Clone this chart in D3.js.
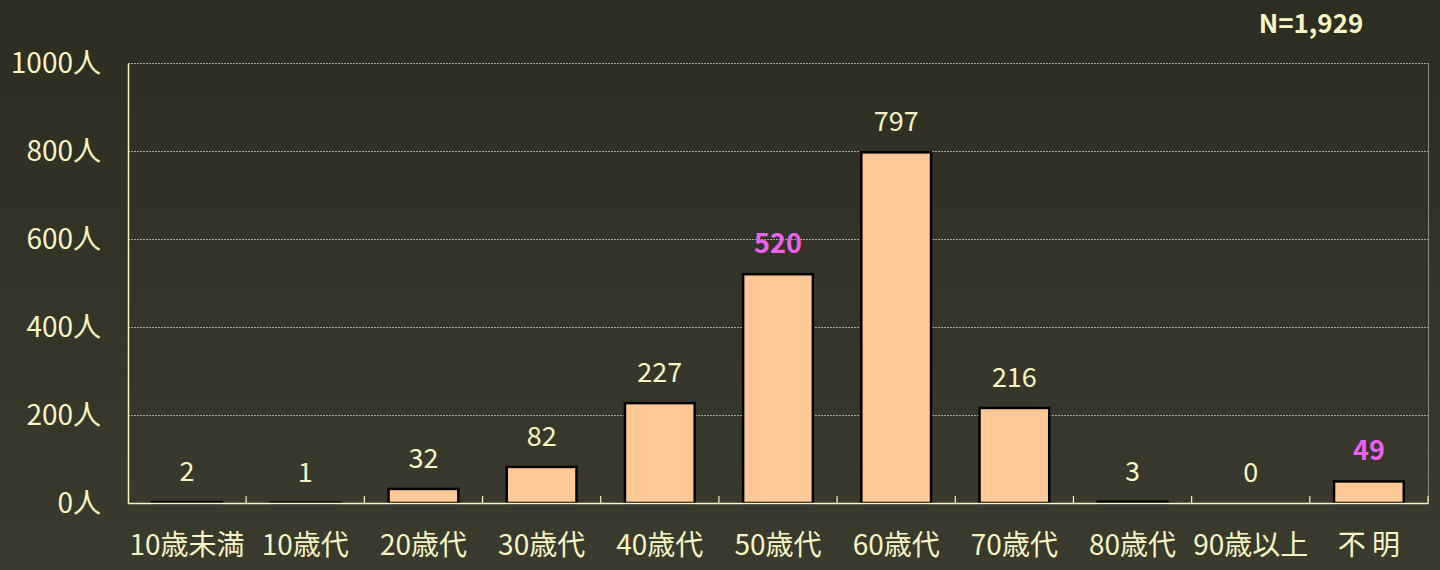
<!DOCTYPE html>
<html><head><meta charset="utf-8">
<script src="https://cdn.jsdelivr.net/npm/d3@7"></script>
<style>html,body{margin:0;padding:0;background:#333326;}svg{display:block;}</style>
</head><body>
<svg id="chart" width="1440" height="570"></svg>
<script>
const categories = ["10歳未満","10歳代","20歳代","30歳代","40歳代","50歳代","60歳代","70歳代","80歳代","90歳以上","不 明"];
const values = [2,1,32,82,227,520,797,216,3,0,49];
const highlighted = ["50歳代","不 明"];
const yTicks = [0,200,400,600,800,1000];
const totalLabel = "N=1,929";

const W = 1440, H = 570;
const m = {left:128, right:12, top:63, bottom:67};
const svg = d3.select("#chart");
const defs = svg.append("defs");
const g0 = defs.append("linearGradient").attr("id","bg").attr("x1",0).attr("y1",0).attr("x2",0).attr("y2",1);
g0.append("stop").attr("offset","0%").attr("stop-color","#2d2d21");
g0.append("stop").attr("offset","100%").attr("stop-color","#3b3a2e");
svg.append("rect").attr("width",W).attr("height",H).attr("fill","url(#bg)");

const x = d3.scaleBand().domain(categories).range([m.left, W-m.right]).paddingInner(0.41).paddingOuter(0.205);
const xb = d3.scaleBand().domain(categories).range([m.left, W-m.right]);
const y = d3.scaleLinear().domain([0,1000]).range([H-m.bottom, m.top]);
const font = "'Noto Sans CJK JP', 'Noto Sans', sans-serif";
const cream = "#f7f5c4";

// gridlines
svg.append("g").selectAll("line").data(yTicks.filter(d=>d>0)).join("line")
  .attr("x1",m.left).attr("x2",W-m.right).attr("y1",d=>y(d)+0.5).attr("y2",d=>y(d)+0.5)
  .attr("stroke","#a8a898").attr("stroke-width",1).attr("stroke-dasharray","2,1");
// right border
svg.append("line").attr("x1",W-m.right+0.5).attr("x2",W-m.right+0.5).attr("y1",m.top).attr("y2",y(0))
  .attr("stroke","#8a8a80").attr("stroke-width",1);

// bars
svg.append("g").selectAll("rect").data(values).join("rect")
  .attr("x",(d,i)=>x(categories[i])).attr("width",x.bandwidth())
  .attr("y",d=>y(d)).attr("height",d=>y(0)-y(d))
  .attr("fill","#ffc896").attr("stroke","#000").attr("stroke-width",2.5);

// y axis
const yAxis = svg.append("g").attr("transform",`translate(${m.left},0)`)
  .call(d3.axisLeft(y).tickValues(yTicks).tickSize(0).tickPadding(27).tickFormat(d=>d+"人"));
yAxis.select(".domain").attr("stroke",cream).attr("stroke-width",1.5);
yAxis.selectAll("text").attr("fill",cream).attr("font-family",font).attr("font-size",28).attr("dy","0.35em");

// x axis
const xAxis = svg.append("g").attr("transform",`translate(0,${y(0)})`)
  .call(d3.axisBottom(xb).tickSize(0).tickPadding(30));
xAxis.select(".domain").attr("stroke",cream).attr("stroke-width",1.5);
xAxis.selectAll("text").attr("fill",cream).attr("font-family",font).attr("font-size",28).attr("dy","0.8em");
// band boundary ticks (inward)
svg.append("g").selectAll("line").data(categories.slice(1).concat([null])).join("line")
  .attr("x1",d=>d===null? W-m.right : xb(d)).attr("x2",d=>d===null? W-m.right : xb(d))
  .attr("y1",y(0)).attr("y2",y(0)-7).attr("stroke",cream).attr("stroke-width",1.2);

// value labels
svg.append("g").selectAll("text").data(values).join("text")
  .attr("x",(d,i)=>x(categories[i])+x.bandwidth()/2)
  .attr("y",d=>y(d)-21)
  .attr("text-anchor","middle").attr("font-family",font).attr("font-size",27)
  .attr("font-weight",(d,i)=>highlighted.includes(categories[i])?"bold":"normal")
  .attr("fill",(d,i)=>highlighted.includes(categories[i])?"#f060f0":cream)
  .text(d=>d);

svg.append("text").attr("x",1311).attr("y",33).attr("text-anchor","middle")
  .attr("font-family",font).attr("font-size",26).attr("font-weight","bold").attr("fill",cream).text(totalLabel);
</script>
</body></html>
